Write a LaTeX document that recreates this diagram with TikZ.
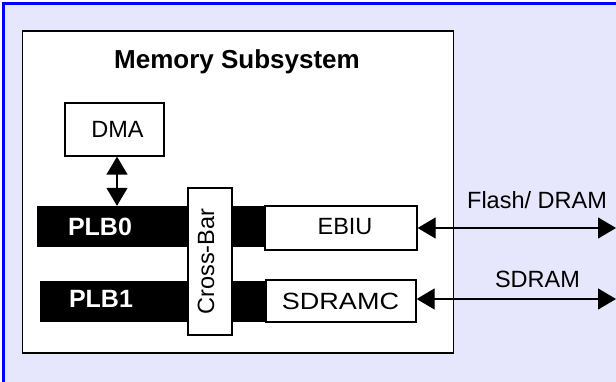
\documentclass[tikz,border=0pt]{standalone}
\usepackage{fontspec}
\setmainfont{Liberation Sans}
\usetikzlibrary{arrows.meta}
\definecolor{bgfill}{RGB}{230,230,252}
\definecolor{frameblue}{RGB}{0,0,255}
\tikzset{
  box/.style={draw=black, line width=1.3pt, fill=white, inner sep=0pt, anchor=center},
  bar/.style={fill=black, draw=none, inner sep=0pt, anchor=center},
  txt/.style={font=\fontsize{23.5}{26}\selectfont, inner sep=0pt, anchor=center},
  btxt/.style={font=\fontsize{25}{28}\selectfont\bfseries, inner sep=0pt, anchor=center},
  link/.style={line width=1.3pt, {Triangle[length=18pt,width=21pt]}-{Triangle[length=18pt,width=21pt]}}
}
\begin{document}
\begin{tikzpicture}[x=1pt,y=-1pt]
\useasboundingbox (0,0) rectangle (616,382);
\clip (0,0) rectangle (616,382);
\draw[frameblue, line width=3pt, fill=bgfill] (3.5,3.5) rectangle (640,400);
% memory subsystem
\node[box, minimum width=431pt, minimum height=322pt] (mem) at (238,192) {};
\node[btxt, font=\fontsize{26}{29}\selectfont\bfseries] (title) at (237,62) {Memory Subsystem};
% DMA
\node[box, minimum width=99pt, minimum height=53pt] (dma) at (114.5,129.5) {};
\node[txt] (dmat) at (117.5,129) {DMA};
% bars
\node[bar, minimum width=229pt, minimum height=41pt] (plb0) at (151.5,226.5) {};
\node[bar, minimum width=226pt, minimum height=40pt] (plb1) at (153,301.5) {};
\node[btxt, text=white] (plb0t) at (100,227) {PLB0};
\node[btxt, text=white] (plb1t) at (101,299) {PLB1};
% cross-bar
\node[box, minimum width=44pt, minimum height=147pt] (xbar) at (210,261.5) {};
\node[txt, rotate=90] (xbart) at (206,261.5) {Cross-Bar};
% controllers
\node[box, minimum width=152pt, minimum height=44pt] (ebiu) at (341,228) {};
\node[txt] (ebiut) at (345,227) {EBIU};
\node[box, minimum width=150pt, minimum height=42pt] (sdramc) at (341,301) {};
\node[txt, xscale=1.15] (sdramct) at (340.5,301) {SDRAMC};
% connectors
\coordinate (edge) at (616,0);
\draw[link] ([xshift=2.5pt]dma.south) -- ([xshift=2.5pt]dma.south |- plb0.north);
\draw[link] (ebiu.east) -- (ebiu.east -| edge);
\draw[link] ([yshift=2pt]sdramc.east) -- ([yshift=2pt]sdramc.east -| edge);
\node[txt] (flash) at (537,200) {Flash/ DRAM};
\node[txt] (sdram) at (537.5,279) {SDRAM};
\end{tikzpicture}
\end{document}
